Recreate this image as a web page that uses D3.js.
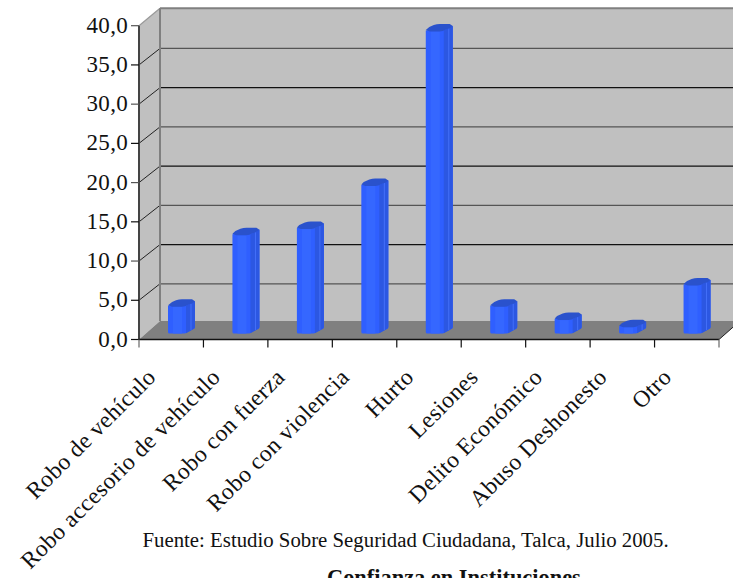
<!DOCTYPE html>
<html><head><meta charset="utf-8">
<script src="https://cdn.jsdelivr.net/npm/d3@7"></script>
<style>html,body{margin:0;padding:0;background:#fff;overflow:hidden}svg{display:block}</style>
</head><body><svg id="c" width="733" height="578"></svg>
<script>
const categories = ["Robo de vehículo","Robo accesorio de vehículo","Robo con fuerza","Robo con violencia","Hurto","Lesiones","Delito Económico","Abuso Deshonesto","Otro"];
const values = [3.6,12.7,13.5,19,38.7,3.6,1.9,1,6.3];
const yTicks = [0,5,10,15,20,25,30,35,40];
const sourceText = "Fuente: Estudio Sobre Seguridad Ciudadana, Talca, Julio 2005.";
const nextTitle = "Confianza en Instituciones";

const svg = d3.select("#c");
const x0=139, x1=719, y0=339.5, yTop=25.7, dx=21, dy=-17.5, dyGrid=-16.5, dyFloor=-18.5;
const x = d3.scaleBand().domain(categories).range([x0,x1]);
const y = d3.scaleLinear().domain([0,40]).range([y0,yTop]);
const W = 740;

// back wall, side wall, floor
svg.append("rect").attr("x",x0+dx).attr("y",yTop+dy).attr("width",W-x0-dx).attr("height",y0+dyFloor-yTop-dy).attr("fill","#c0c0c0");
svg.append("path").attr("fill","#c0c0c0").attr("d",`M${x0},${y0}L${x0},${yTop}L${x0+dx},${yTop+dy}L${x0+dx},${y0+dyFloor}Z`);
svg.append("path").attr("fill","#808080").attr("d",`M${x0},${y0}L${x1},${y0}L${x1+dx},${y0+dyFloor}L${x0+dx},${y0+dyFloor}Z`);

// gridlines
yTicks.forEach(t=>{
  const yy=y(t)+dyGrid;
  if(t>0 && t<40) svg.append("line").attr("x1",x0+dx).attr("x2",W).attr("y1",yy).attr("y2",yy).attr("stroke",t%10===0?"#111":"#555").attr("stroke-width",1.2);
  if(t>0 && t<40) svg.append("line").attr("x1",x0).attr("x2",x0+dx).attr("y1",y(t)).attr("y2",yy).attr("stroke","#222").attr("stroke-width",1);
});
svg.append("line").attr("x1",x0).attr("x2",x0+dx).attr("y1",yTop).attr("y2",yTop+dy).attr("stroke","#999").attr("stroke-width",1.2);
svg.append("line").attr("x1",x0+dx).attr("x2",W).attr("y1",yTop+dy).attr("y2",yTop+dy).attr("stroke","#808080").attr("stroke-width",2);
svg.append("line").attr("x1",x0+dx).attr("x2",x0+dx).attr("y1",yTop+dy).attr("y2",y0+dyFloor).attr("stroke","#808080").attr("stroke-width",2);
svg.append("line").attr("x1",x1).attr("x2",x1+dx).attr("y1",y0).attr("y2",y0+dyFloor).attr("stroke","#222").attr("stroke-width",1);

// bars
const barW=27, barOff=29, capH=7.5, baseY=333.5;
const unit = y(0)-y(1);
categories.forEach((c,i)=>{
  const l=x(c)+barOff, r=l+barW, yb=baseY, yt=yb-values[i]*unit-6;
  const g=svg.append("g");
  const m=l+17;
  g.append("path").attr("fill","#2f5fff").attr("d",
    `M${l},${yt+capH-1}L${l},${yb-1.5}Q${l},${yb} ${l+1.5},${yb}L${m},${yb}L${r-1.5},${yb-4.5}Q${r},${yb-5} ${r},${yb-6.5}L${r},${yt+2}Z`);
  g.append("path").attr("fill","#2c57e2").attr("d",
    `M${l+18},${yt+capH-1}L${l+18},${yb-0.3}L${r-1.5},${yb-4.5}Q${r},${yb-5} ${r},${yb-6.5}L${r},${yt+2}Z`);
  g.append("line").attr("x1",l+23).attr("x2",l+23).attr("y1",yt+capH-3).attr("y2",yb-3.5).attr("stroke","#4a76ff").attr("stroke-width",0.8);
  g.append("rect").attr("x",l+5).attr("y",yt+capH).attr("width",9).attr("height",Math.max(0,yb-yt-capH)).attr("fill","#3567ff");
  g.append("path").attr("fill","#2a52cc").attr("d",
    `M${l},${yt+capH-1.5}Q${l+3},${yt+2.5} ${l+8},${yt+1}Q${l+11},${yt} ${l+14},${yt}L${r-3},${yt}L${r},${yt+2}Q${r-2},${yt+4} ${l+20},${yt+5.5}Q${l+17},${yt+capH} ${l+14},${yt+capH}L${l+4},${yt+capH}Z`);
});

// axes
svg.append("line").attr("x1",x0).attr("x2",x0).attr("y1",yTop).attr("y2",y0).attr("stroke","#444").attr("stroke-width",2);
svg.append("line").attr("x1",x0).attr("x2",x1).attr("y1",y0).attr("y2",y0).attr("stroke","#111").attr("stroke-width",1.5);
const fontY='"Liberation Serif","DejaVu Serif",serif';
yTicks.forEach(t=>{
  svg.append("line").attr("x1",x0-8).attr("x2",x0).attr("y1",y(t)).attr("y2",y(t)).attr("stroke",t%10===0&&t>0?"#555":"#111").attr("stroke-width",1.2);
  svg.append("text").attr("x",x0-11).attr("y",y(t)+7).attr("text-anchor","end").attr("font-family",fontY).attr("font-size",23).attr("letter-spacing",0.3).attr("fill","#111").text(d3.format(".1f")(t).replace(".",","));
});
categories.forEach((c,i)=>{
  svg.append("line").attr("x1",x(c)).attr("x2",x(c)).attr("y1",y0).attr("y2",y0+8).attr("stroke",i===0?"#666":"#111").attr("stroke-width",1.2);
  const cx=x(c)+x.bandwidth()/2-14, cy=y0+39;
  svg.append("text").attr("transform",`translate(${cx},${cy}) rotate(-45)`).attr("text-anchor","end").attr("font-family",fontY).attr("font-size",23.5).attr("letter-spacing",0.4).attr("fill","#111").text(c);
});
svg.append("line").attr("x1",x1).attr("x2",x1).attr("y1",y0).attr("y2",y0+8).attr("stroke","#666").attr("stroke-width",1.2);

svg.append("text").attr("x",142.5).attr("y",547).attr("font-family",'"Liberation Serif",serif').attr("font-size",20.8).attr("fill","#111").text(sourceText);
svg.append("text").attr("x",327).attr("y",585).attr("font-family",'"Liberation Serif",serif').attr("font-size",22.4).attr("font-weight","bold").attr("fill","#111").text(nextTitle);
</script></body></html>
